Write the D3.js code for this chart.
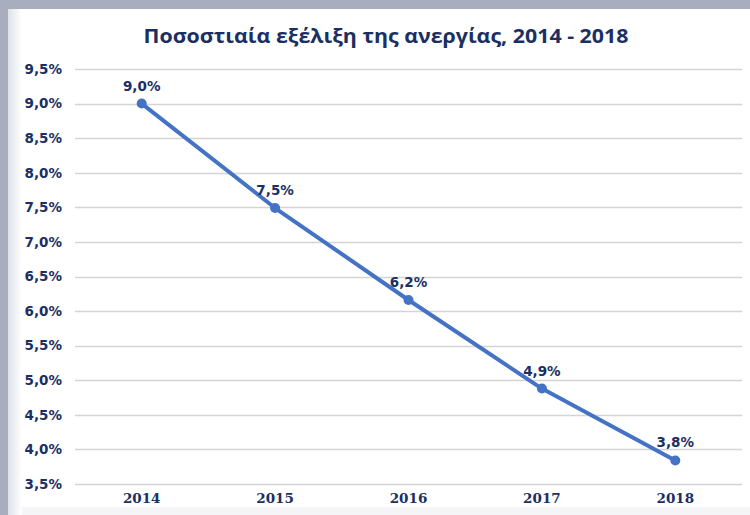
<!DOCTYPE html>
<html>
<head>
<meta charset="utf-8">
<script src="https://cdn.jsdelivr.net/npm/d3@7"></script>
<style>
  body { margin: 0; background: #fff; }
  svg { display: block; }
</style>
</head>
<body>
<div class="canvas"></div>
<script>
// data
const years = ['2014', '2015', '2016', '2017', '2018']
const unemployment = [9.0, 7.49, 6.16, 4.88, 3.84]
const yTicks = [3.5, 4.0, 4.5, 5.0, 5.5, 6.0, 6.5, 7.0, 7.5, 8.0, 8.5, 9.0, 9.5]
const title = 'Ποσοστιαία εξέλιξη της ανεργίας, 2014 - 2018'

const W = 750, H = 515
const margin = {top: 69, right: 8, bottom: 31, left: 75}

const svg = d3.select('.canvas').append('svg')
    .attr('width', W)
    .attr('height', H)

// frame (screenshot border)
const defs = svg.append('defs')
const grad = defs.append('linearGradient').attr('id', 'leftFade')
grad.append('stop').attr('offset', '0%').attr('stop-color', '#dfe1e8')
grad.append('stop').attr('offset', '100%').attr('stop-color', '#ffffff')

svg.append('rect').attr('width', W).attr('height', H).attr('fill', '#ffffff')
svg.append('rect').attr('width', W).attr('height', 9).attr('fill', '#a9aebe')
svg.append('rect').attr('y', 9).attr('width', 8).attr('height', H - 9).attr('fill', '#a9aebe')
svg.append('rect').attr('x', 8).attr('y', 9).attr('width', 14).attr('height', H - 9).attr('fill', 'url(#leftFade)')
svg.append('rect').attr('x', 22).attr('y', 507).attr('width', W - 22).attr('height', 8).attr('fill', '#f5f5f7')

const navy = '#1b2f62'

// title
svg.append('text')
    .attr('x', 386)
    .attr('y', 43)
    .attr('text-anchor', 'middle')
    .attr('font-family', '"Open Sans", "DejaVu Sans", sans-serif')
    .attr('font-weight', 'bold')
    .attr('font-size', 20)
    .attr('fill', navy)
    .attr('textLength', 485)
    .attr('lengthAdjust', 'spacingAndGlyphs')
    .text(title)

const x = d3.scaleBand()
    .domain(years)
    .range([margin.left, W - margin.right])

const y = d3.scaleLinear()
    .domain([3.5, 9.5])
    .range([H - margin.bottom, margin.top])

const fmt = v => d3.format('.1f')(v).replace('.', ',') + '%'

// gridlines
svg.append('g')
    .selectAll('line')
    .data(yTicks)
    .enter().append('line')
    .attr('x1', margin.left)
    .attr('x2', W - margin.right)
    .attr('y1', d => Math.round(y(d)) + 0.5)
    .attr('y2', d => Math.round(y(d)) + 0.5)
    .attr('stroke', '#d4d4d4')
    .attr('stroke-width', 1.5)

// y axis labels
const yAxis = svg.append('g')
    .attr('transform', `translate(${margin.left - 13}, 0)`)
    .call(d3.axisLeft(y).tickValues(yTicks).tickFormat(fmt).tickSize(0).tickPadding(0))
yAxis.select('.domain').remove()
yAxis.selectAll('text')
    .attr('font-family', '"DejaVu Sans", Verdana, sans-serif')
    .attr('font-weight', 'bold')
    .attr('font-size', 13.5)
    .attr('fill', navy)

// x axis labels
const xAxis = svg.append('g')
    .attr('transform', `translate(0, ${H - margin.bottom + 9})`)
    .call(d3.axisBottom(x).tickSize(0).tickPadding(0))
xAxis.select('.domain').remove()
xAxis.selectAll('text')
    .attr('font-family', '"DejaVu Serif", "Liberation Serif", serif')
    .attr('font-weight', 'bold')
    .attr('font-size', 13.5)
    .attr('fill', navy)

const cx = d => x(d) + x.bandwidth() / 2

// line
const line = d3.line()
    .x((d, i) => cx(years[i]))
    .y(d => y(d))

svg.append('path')
    .datum(unemployment)
    .attr('d', line)
    .attr('fill', 'none')
    .attr('stroke', '#4472c4')
    .attr('stroke-width', 4)
    .attr('stroke-linejoin', 'round')

svg.append('g')
    .selectAll('circle')
    .data(unemployment)
    .enter().append('circle')
    .attr('cx', (d, i) => cx(years[i]))
    .attr('cy', d => y(d))
    .attr('r', 5)
    .attr('fill', '#4472c4')

// data labels
svg.append('g')
    .selectAll('text')
    .data(unemployment)
    .enter().append('text')
    .attr('x', (d, i) => cx(years[i]))
    .attr('y', d => y(d) - 13)
    .attr('text-anchor', 'middle')
    .attr('font-family', '"DejaVu Sans", Verdana, sans-serif')
    .attr('font-weight', 'bold')
    .attr('font-size', 13.5)
    .attr('fill', navy)
    .text(d => fmt(d))
</script>
</body>
</html>
